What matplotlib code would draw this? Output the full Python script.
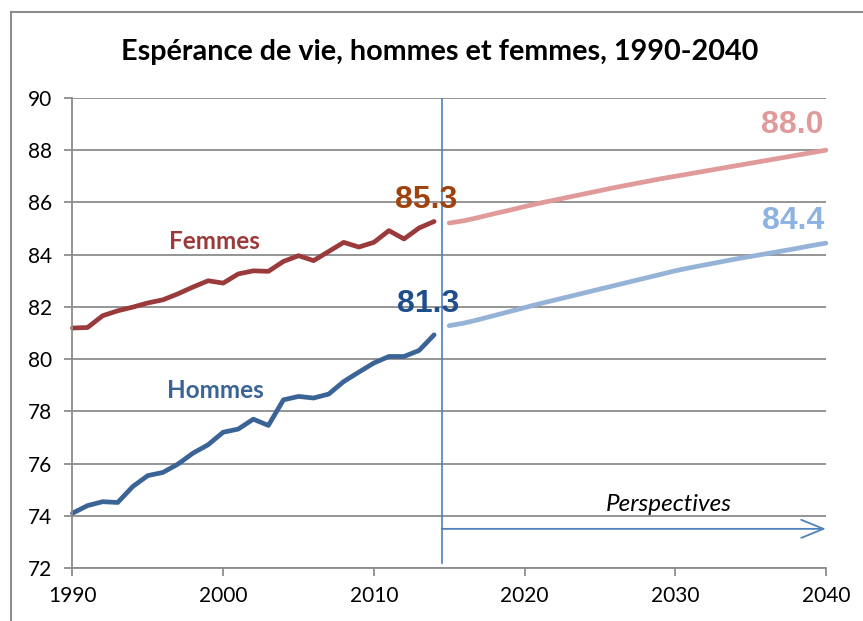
import numpy as np
import matplotlib
matplotlib.use('Agg')
import matplotlib.pyplot as plt
from matplotlib.lines import Line2D

## ###############################
##  DATA
## ###############################
years_hist = list(range(1990, 2015))
femmes_hist = [81.19, 81.21, 81.66, 81.85, 81.99, 82.15, 82.27, 82.50, 82.76, 83.00,
               82.91, 83.26, 83.38, 83.36, 83.74, 83.96, 83.77, 84.12, 84.47, 84.29,
               84.47, 84.92, 84.60, 85.02, 85.27]
hommes_hist = [74.10, 74.39, 74.54, 74.51, 75.12, 75.54, 75.66, 75.98, 76.40, 76.72,
               77.20, 77.32, 77.70, 77.46, 78.44, 78.57, 78.51, 78.66, 79.14, 79.50,
               79.85, 80.10, 80.10, 80.33, 80.93]

years_proj = list(range(2015, 2041))
femmes_proj = [85.21, 85.30, 85.43, 85.57, 85.70, 85.84, 85.97, 86.09, 86.21, 86.33,
               86.45, 86.57, 86.68, 86.79, 86.90, 87.00, 87.10, 87.20, 87.30, 87.40,
               87.50, 87.60, 87.70, 87.80, 87.90, 88.00]
hommes_proj = [81.28, 81.38, 81.52, 81.67, 81.82, 81.97, 82.12, 82.26, 82.40, 82.54,
               82.68, 82.82, 82.96, 83.10, 83.24, 83.38, 83.50, 83.61, 83.72, 83.83,
               83.93, 84.03, 84.13, 84.23, 84.34, 84.44]

yticks = list(range(72, 91, 2))
xticks = list(range(1990, 2041, 10))
split_year = 2014.5

title = 'Espérance de vie, hommes et femmes, 1990-2040'

c_f = '#9b3a3a'
c_h = '#3a6396'
c_fp = '#e09a9a'
c_hp = '#95b3d7'
c_line = '#4f81bd'
c_grid = '#8c8c8c'

plt.rcParams['font.family'] = ['Lato', 'DejaVu Sans']

############################
# PLOT
############################
fig = plt.figure(figsize=(8.63, 6.21), dpi=100)
ax = fig.add_axes([0.084, 0.0853, 0.873, 0.757])

ax.set_xlim(1990, 2040)
ax.set_ylim(72, 90)
ax.set_yticks(yticks)
ax.set_xticks(xticks)
ax.yaxis.grid(True, color=c_grid, linewidth=1.3)
ax.set_axisbelow(True)
for s in ['top', 'right']:
  ax.spines[s].set_visible(False)
for s in ['left', 'bottom']:
  ax.spines[s].set_color(c_grid)
  ax.spines[s].set_linewidth(1.3)
ax.tick_params(axis='both', colors=c_grid, labelcolor='black', labelsize=15, length=6, width=1.3)
ax.tick_params(axis='x', pad=7)
ax.tick_params(axis='y', pad=9)

lw = 3.4
ax.plot(years_hist, femmes_hist, color=c_f, linewidth=lw, solid_capstyle='round', solid_joinstyle='round', clip_on=False)
ax.plot(years_hist, hommes_hist, color=c_h, linewidth=lw, solid_capstyle='round', solid_joinstyle='round', clip_on=False)
ax.plot(years_proj, femmes_proj, color=c_fp, linewidth=lw, solid_capstyle='round', solid_joinstyle='round', clip_on=False)
ax.plot(years_proj, hommes_proj, color=c_hp, linewidth=lw, solid_capstyle='round', solid_joinstyle='round', clip_on=False)

ax.axvline(split_year, color=c_line, linewidth=1.2, ymin=0.01, ymax=1)
ax.annotate('', xy=(2040, 73.5), xytext=(split_year, 73.5),
            arrowprops=dict(arrowstyle='->,head_length=1.6,head_width=0.65', color=c_line,
                            linewidth=1.3, shrinkA=0, shrinkB=0))
ax.text(2029.6, 74.45, 'Perspectives', style='italic', fontsize=17.5, ha='center', va='center')

ax.text(1999.4, 84.5, 'Femmes', color=c_f, fontsize=17.5, fontweight='bold', ha='center', va='center')
ax.text(1999.5, 78.8, 'Hommes', color=c_h, fontsize=17.5, fontweight='bold', ha='center', va='center')

ax.text(2013.5, 86.1, f'{femmes_hist[-1]:.1f}', color='#a0420e', fontsize=23, fontweight='bold',
        ha='center', va='center', family='Liberation Sans')
ax.text(2013.6, 82.1, f'{hommes_proj[0]:.1f}', color='#1f4e8c', fontsize=23, fontweight='bold',
        ha='center', va='center', family='Liberation Sans')
ax.text(2037.8, 88.95, f'{femmes_proj[-1]:.1f}', color=c_fp, fontsize=23, fontweight='bold',
        ha='center', va='center', family='Liberation Sans')
ax.text(2037.8, 85.3, f'{hommes_proj[-1]:.1f}', color='#8db3e2', fontsize=23, fontweight='bold',
        ha='center', va='center', family='Liberation Sans')

fig.text(0.51, 0.916, title, fontsize=20.7, fontweight='bold', ha='center', va='center')

# chart frame
fig.add_artist(Line2D([11/863, 1], [1-12/621, 1-12/621], color='#8c8c8c', linewidth=1.5))
fig.add_artist(Line2D([11/863, 11/863], [0, 1-12/621], color='#8c8c8c', linewidth=1.5))

plt.savefig('out.png', dpi=100, facecolor='w', edgecolor='w')
